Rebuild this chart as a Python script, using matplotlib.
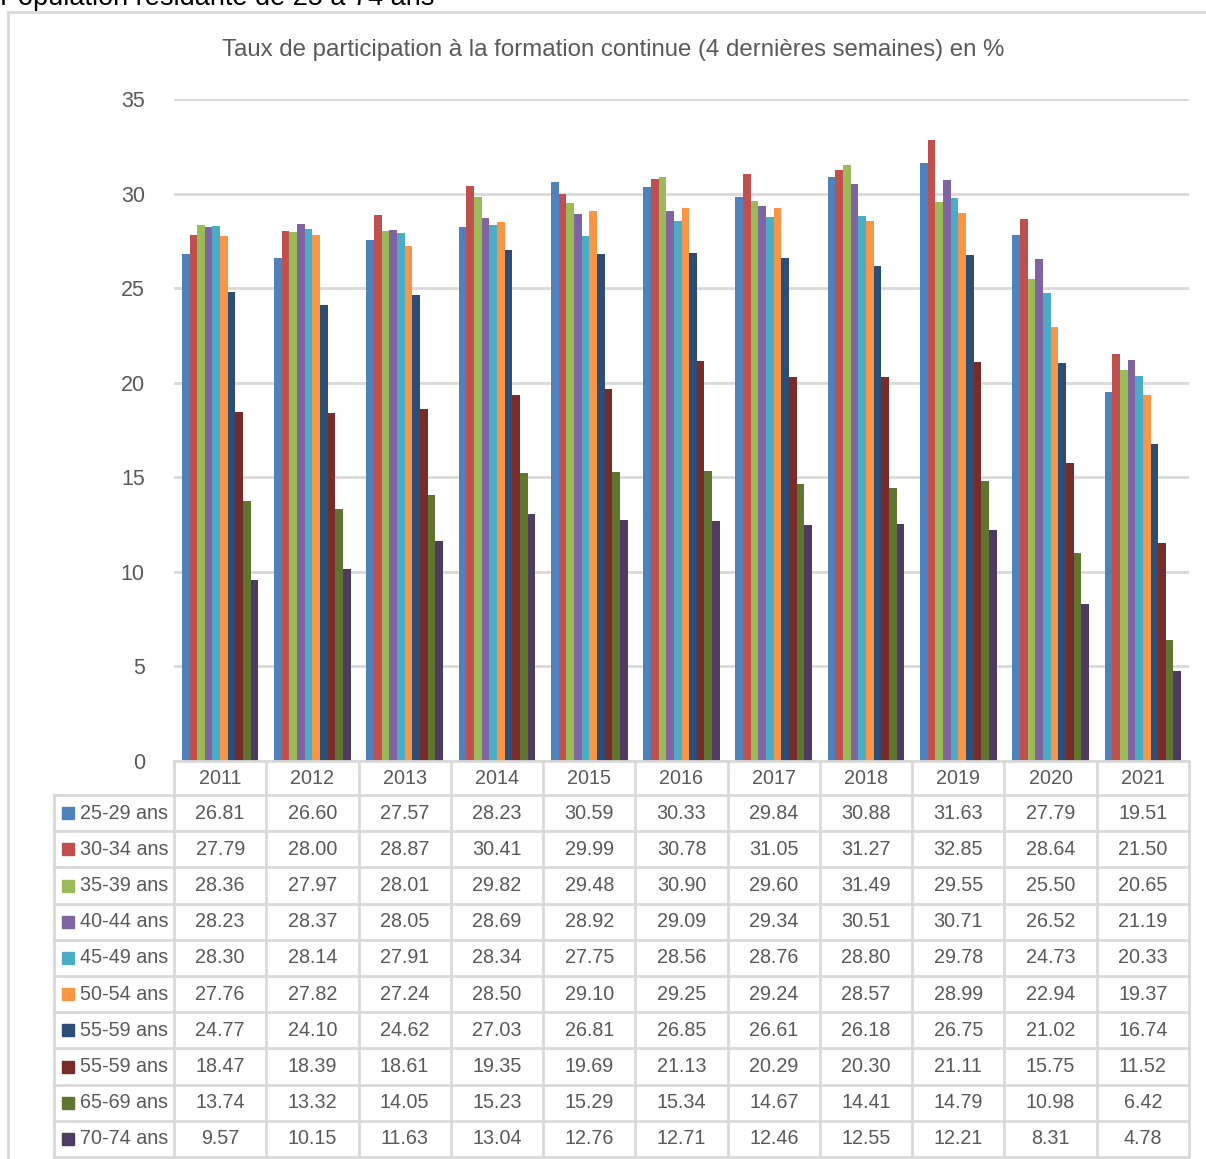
import matplotlib
matplotlib.use("Agg")
import matplotlib.pyplot as plt
from matplotlib.patches import Rectangle
from matplotlib.lines import Line2D
import numpy as np

years = ["2011", "2012", "2013", "2014", "2015", "2016", "2017", "2018", "2019", "2020", "2021"]
series_labels = ["25-29 ans", "30-34 ans", "35-39 ans", "40-44 ans", "45-49 ans",
                 "50-54 ans", "55-59 ans", "55-59 ans", "65-69 ans", "70-74 ans"]
v25_29 = [26.81, 26.60, 27.57, 28.23, 30.59, 30.33, 29.84, 30.88, 31.63, 27.79, 19.51]
v30_34 = [27.79, 28.00, 28.87, 30.41, 29.99, 30.78, 31.05, 31.27, 32.85, 28.64, 21.50]
v35_39 = [28.36, 27.97, 28.01, 29.82, 29.48, 30.90, 29.60, 31.49, 29.55, 25.50, 20.65]
v40_44 = [28.23, 28.37, 28.05, 28.69, 28.92, 29.09, 29.34, 30.51, 30.71, 26.52, 21.19]
v45_49 = [28.30, 28.14, 27.91, 28.34, 27.75, 28.56, 28.76, 28.80, 29.78, 24.73, 20.33]
v50_54 = [27.76, 27.82, 27.24, 28.50, 29.10, 29.25, 29.24, 28.57, 28.99, 22.94, 19.37]
v55_59 = [24.77, 24.10, 24.62, 27.03, 26.81, 26.85, 26.61, 26.18, 26.75, 21.02, 16.74]
v60_64 = [18.47, 18.39, 18.61, 19.35, 19.69, 21.13, 20.29, 20.30, 21.11, 15.75, 11.52]
v65_69 = [13.74, 13.32, 14.05, 15.23, 15.29, 15.34, 14.67, 14.41, 14.79, 10.98, 6.42]
v70_74 = [9.57, 10.15, 11.63, 13.04, 12.76, 12.71, 12.46, 12.55, 12.21, 8.31, 4.78]
series = [v25_29, v30_34, v35_39, v40_44, v45_49, v50_54, v55_59, v60_64, v65_69, v70_74]
colors = ["#4F81BD", "#C0504D", "#9BBB59", "#8064A2", "#4BACC6",
          "#F79646", "#2C4D75", "#772C2A", "#5F7530", "#4D3B62"]

W, H = 1206, 1159
fig = plt.figure(figsize=(W / 100, H / 100), dpi=100)
FAM = ["Liberation Sans", "DejaVu Sans"]
TXT = "#595959"
GRID = "#D9D9D9"
TFS = 14.2

def fx(x):
    return x / W

def fy(y):
    return 1 - y / H

ax_l, ax_r, ax_t, ax_b = 174, 1189, 99, 761
ax = fig.add_axes([fx(ax_l), fy(ax_b), fx(ax_r) - fx(ax_l), fy(ax_t) - fy(ax_b)])
n = len(years)
x = np.arange(n)
bw = 0.083
for i, (vals, c) in enumerate(zip(series, colors)):
    ax.bar(x + (i - 4.5) * bw, vals, width=bw, color=c, zorder=3)
ax.set_xlim(-0.5, n - 0.5)
ax.set_ylim(0, 35)
ax.set_yticks(range(0, 36, 5))
ax.yaxis.grid(True, color=GRID, linewidth=2, zorder=0)
ax.set_xticks([])
for s in ax.spines.values():
    s.set_visible(False)
ax.tick_params(axis="y", length=0, pad=21, labelsize=15.5, labelcolor=TXT)
for lab in ax.get_yticklabels():
    lab.set_family(FAM)

# outer frame
fig.add_artist(Line2D([fx(8), fx(W)], [fy(12), fy(12)], color=GRID, lw=2))
fig.add_artist(Line2D([fx(8), fx(8)], [fy(12), fy(H)], color=GRID, lw=2))

# top text and title
fig.text(fx(0), fy(5), "Population résidante de 25 à 74 ans", ha="left", va="baseline",
         fontsize=19.5, color="black", family=FAM)
fig.text(fx(613), fy(50), "Taux de participation à la formation continue (4 dernières semaines) en %",
         ha="center", va="center", fontsize=17.3, color=TXT, family=FAM)

# data table
col_w = (ax_r - ax_l) / n
row_top = 795
row_h = 36.2
tab_left = 54
tab_bot = row_top + 10 * row_h
lc = GRID
fig.add_artist(Line2D([fx(ax_l), fx(ax_r)], [fy(ax_b), fy(ax_b)], color=lc, lw=2))
for k in range(11):
    yy = row_top + k * row_h
    fig.add_artist(Line2D([fx(tab_left), fx(ax_r)], [fy(yy), fy(yy)], color=lc, lw=2))
fig.add_artist(Line2D([fx(tab_left), fx(tab_left)], [fy(row_top), fy(tab_bot)], color=lc, lw=2))
for k in range(n + 1):
    xx = ax_l + k * col_w
    fig.add_artist(Line2D([fx(xx), fx(xx)], [fy(ax_b), fy(tab_bot)], color=lc, lw=2))
for j, yr in enumerate(years):
    fig.text(fx(ax_l + (j + 0.5) * col_w), fy((ax_b + row_top) / 2 + 1), yr,
             ha="center", va="center", fontsize=TFS, color=TXT, family=FAM)
for i, (lab, vals, c) in enumerate(zip(series_labels, series, colors)):
    yc = row_top + (i + 0.5) * row_h
    fig.add_artist(Rectangle((fx(62), fy(yc + 6)), fx(12), 12 / H, color=c))
    fig.text(fx(80), fy(yc), lab, ha="left", va="center", fontsize=TFS, color=TXT, family=FAM)
    for j, v in enumerate(vals):
        fig.text(fx(ax_l + (j + 0.5) * col_w), fy(yc), f"{v:.2f}",
                 ha="center", va="center", fontsize=TFS, color=TXT, family=FAM)

fig.savefig("out.png", dpi=100)
